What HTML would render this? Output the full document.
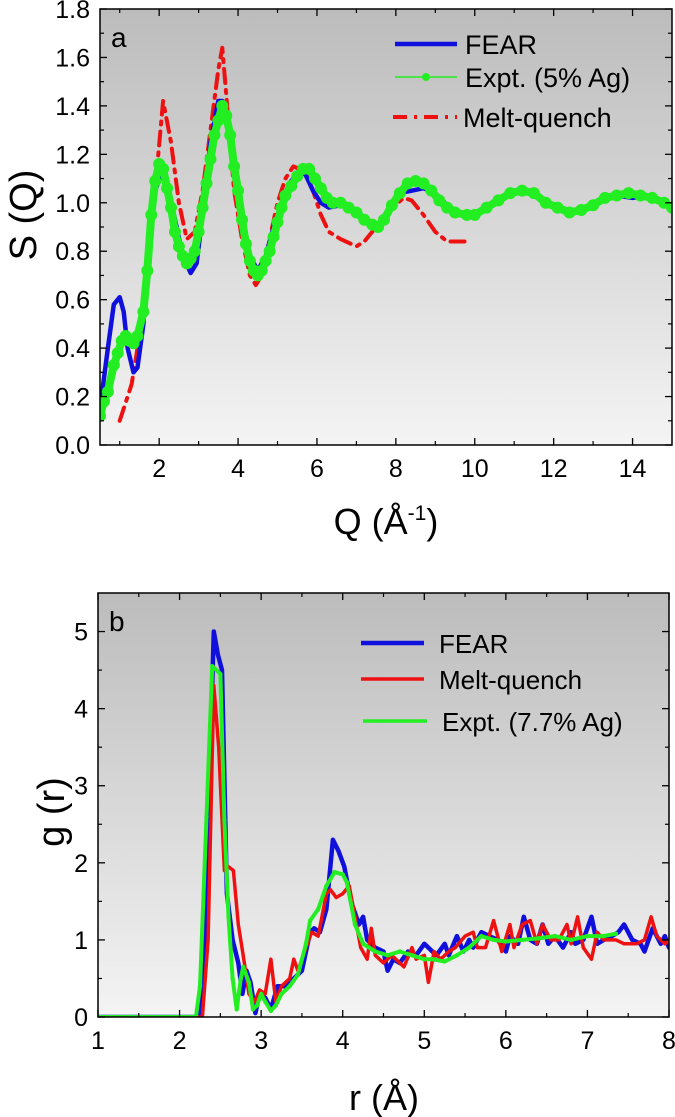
<!DOCTYPE html>
<html><head><meta charset="utf-8"><style>
html,body{margin:0;padding:0;background:#fff;}
svg{display:block;font-family:"Liberation Sans",Arial,sans-serif;}
</style></head><body>
<svg id="fig" width="675" height="1117" viewBox="0 0 675 1117">
<defs>
<linearGradient id="bg" x1="0" y1="0" x2="0" y2="1"><stop offset="0" stop-color="#bcbcbc"/><stop offset="1" stop-color="#f4f4f4"/></linearGradient>
</defs>
</svg>
<script>
// ---- Panel a data ----
const fearQ=[0.5,0.7,0.85,1.0,1.1,1.2,1.35,1.45,1.6,1.75,1.9,2.05,2.2,2.4,2.6,2.8,2.95,3.1,3.3,3.5,3.6,3.75,3.9,4.1,4.3,4.5,4.7,4.9,5.1,5.3,5.5,5.7,5.9,6.1,6.3,6.6,6.9,7.2,7.5,7.8,8.1,8.4,8.7,9.0,9.3,9.6,9.9,10.2,10.6,11.0,11.3,11.6,11.9,12.2,12.5,12.8,13.2,13.6,14.0,14.4,14.7,15.0];
const fearS=[0.15,0.4,0.58,0.61,0.55,0.4,0.3,0.32,0.5,0.85,1.05,1.12,1.08,0.93,0.78,0.71,0.75,0.95,1.25,1.42,1.42,1.32,1.15,0.95,0.78,0.72,0.78,0.9,1.0,1.08,1.12,1.12,1.05,1.0,0.98,0.99,0.97,0.94,0.9,0.97,1.04,1.05,1.06,1.04,0.99,0.96,0.95,0.97,1.02,1.04,1.05,1.02,0.99,0.98,0.96,0.98,1.01,1.03,1.02,1.03,1.01,0.98];
const exptQ=[0.5,0.6,0.7,0.85,0.95,1.05,1.15,1.25,1.35,1.45,1.6,1.7,1.8,1.9,2.0,2.1,2.2,2.3,2.4,2.5,2.6,2.7,2.8,2.9,3.0,3.1,3.2,3.3,3.4,3.5,3.6,3.7,3.8,3.9,4.0,4.1,4.2,4.3,4.4,4.5,4.6,4.7,4.8,4.9,5.0,5.1,5.2,5.35,5.5,5.65,5.8,5.95,6.1,6.25,6.4,6.6,6.8,7.0,7.2,7.4,7.55,7.7,7.9,8.1,8.3,8.5,8.7,8.9,9.1,9.3,9.5,9.8,10.0,10.3,10.6,10.9,11.2,11.5,11.8,12.1,12.4,12.7,13.0,13.3,13.6,13.9,14.2,14.5,14.8,15.0];
const exptS=[0.12,0.18,0.22,0.33,0.38,0.43,0.45,0.43,0.42,0.45,0.55,0.72,0.95,1.09,1.16,1.14,1.06,0.98,0.88,0.82,0.78,0.75,0.77,0.8,0.88,0.98,1.08,1.18,1.28,1.34,1.4,1.36,1.28,1.15,1.05,0.93,0.83,0.76,0.72,0.7,0.72,0.76,0.8,0.86,0.92,0.98,1.03,1.07,1.11,1.14,1.14,1.1,1.06,1.02,1.0,1.0,0.98,0.96,0.93,0.91,0.9,0.93,0.99,1.04,1.08,1.09,1.08,1.05,1.01,0.98,0.96,0.95,0.95,0.98,1.01,1.04,1.05,1.04,1.0,0.98,0.96,0.97,0.99,1.02,1.03,1.04,1.03,1.02,1.0,0.98];
const meltQ=[1.0,1.3,1.6,1.8,1.95,2.1,2.3,2.5,2.7,2.9,3.1,3.3,3.5,3.6,3.75,3.9,4.1,4.3,4.45,4.6,4.8,5.0,5.2,5.4,5.7,5.9,6.1,6.3,6.6,7.0,7.2,7.5,7.9,8.2,8.4,8.7,9.0,9.3,9.8];
const meltS=[0.1,0.25,0.55,0.85,1.15,1.42,1.25,1.0,0.85,0.88,1.05,1.3,1.55,1.64,1.35,1.05,0.85,0.7,0.66,0.7,0.85,1.0,1.1,1.15,1.13,1.05,0.95,0.88,0.85,0.82,0.84,0.9,0.98,1.02,1.01,0.95,0.88,0.84,0.84];
const aXTicks=[2,4,6,8,10,12,14];
const aYTicks=[0.0,0.2,0.4,0.6,0.8,1.0,1.2,1.4,1.6,1.8];
// ---- Panel b data ----
const fearR=[1.0,2.25,2.3,2.42,2.47,2.52,2.58,2.65,2.72,2.77,2.82,2.87,2.93,2.98,3.05,3.12,3.2,3.3,3.4,3.5,3.6,3.65,3.72,3.8,3.88,3.95,4.02,4.1,4.2,4.25,4.3,4.4,4.5,4.55,4.62,4.7,4.8,4.9,5.0,5.1,5.15,5.25,5.3,5.4,5.48,5.55,5.6,5.7,5.8,5.9,6.0,6.05,6.15,6.22,6.3,6.38,6.45,6.52,6.6,6.7,6.8,6.85,6.95,7.05,7.12,7.2,7.3,7.38,7.45,7.55,7.65,7.7,7.8,7.9,7.95,8.0];
const fearG=[0,0,0.8,5.0,4.7,4.5,1.6,1.0,0.7,0.3,0.6,0.45,0.05,0.3,0.25,0.1,0.4,0.4,0.5,0.6,1.1,1.15,1.1,1.4,2.3,2.15,1.95,1.5,1.2,1.3,1.0,0.9,0.85,0.6,0.75,0.7,0.85,0.8,0.95,0.85,0.8,0.95,0.8,1.05,0.85,1.0,0.9,1.1,1.05,1.0,0.85,1.05,0.95,1.3,1.0,0.95,1.2,0.95,1.05,0.9,1.1,0.95,1.0,1.3,0.95,1.0,1.05,1.1,1.2,1.0,0.95,0.85,1.15,0.95,1.05,0.9];
const meltR=[1.0,2.28,2.35,2.42,2.48,2.55,2.6,2.66,2.72,2.78,2.85,2.92,2.98,3.05,3.12,3.18,3.25,3.35,3.4,3.45,3.55,3.62,3.7,3.8,3.85,3.92,4.0,4.08,4.15,4.22,4.3,4.35,4.4,4.5,4.6,4.75,4.85,4.9,5.0,5.05,5.12,5.2,5.3,5.38,5.5,5.6,5.65,5.75,5.85,5.95,6.05,6.1,6.2,6.3,6.38,6.45,6.55,6.65,6.75,6.8,6.88,6.95,7.05,7.12,7.2,7.35,7.45,7.6,7.7,7.78,7.85,7.95,8.0];
const meltG=[0,0,1.0,4.3,3.5,1.9,1.95,1.9,1.2,0.8,0.3,0.2,0.35,0.3,0.75,0.2,0.4,0.5,0.75,0.6,0.9,1.1,1.05,1.6,1.65,1.55,1.6,1.7,1.3,0.9,0.75,1.15,0.8,0.7,0.8,0.65,0.9,0.75,0.8,0.45,0.85,0.75,0.85,0.9,1.05,1.1,0.9,0.9,1.25,0.85,1.2,0.9,1.2,1.25,0.95,1.2,1.0,1.0,1.2,0.95,1.3,0.9,0.75,1.1,1.0,1.0,0.95,0.95,1.0,1.3,1.05,0.95,1.0];
const exptR=[1.0,1.2,1.4,1.6,1.8,2.0,2.2,2.25,2.33,2.4,2.5,2.55,2.6,2.65,2.7,2.75,2.78,2.85,2.9,2.95,3.0,3.05,3.12,3.18,3.25,3.35,3.45,3.55,3.6,3.7,3.8,3.9,4.0,4.05,4.15,4.25,4.4,4.55,4.7,4.85,5.0,5.1,5.25,5.4,5.55,5.7,5.85,6.0,6.2,6.4,6.6,6.8,7.0,7.2,7.35];
const exptG=[0,0,0,0,0,0,0,0.4,2.6,4.55,4.45,2.55,1.3,0.5,0.1,0.5,0.65,0.45,0.1,0.15,0.3,0.2,0.08,0.15,0.3,0.4,0.55,0.95,1.25,1.4,1.7,1.88,1.85,1.75,1.2,0.95,0.85,0.8,0.85,0.8,0.75,0.75,0.72,0.8,0.9,1.05,1.0,0.98,1.0,1.02,1.05,1.0,1.05,1.05,1.08];
const bXTicks=[1,2,3,4,5,6,7,8];
const bYTicks=[0,1,2,3,4,5];

const NS='http://www.w3.org/2000/svg';
const svg=document.getElementById('fig');
function mk(tag,attrs,parent){const e=document.createElementNS(NS,tag);for(const k in attrs)e.setAttribute(k,attrs[k]);(parent||svg).appendChild(e);return e;}
function axis(x0,x1,px0,px1){return v=>px0+(v-x0)/(x1-x0)*(px1-px0);}

function panel(cfg){
  const g=mk('g',{});
  
  
  const X=axis(cfg.xmin,cfg.xmax,cfg.L,cfg.R), Y=axis(cfg.ymin,cfg.ymax,cfg.B,cfg.T);
  const bg=mk('rect',{x:cfg.L,y:cfg.T,width:cfg.R-cfg.L,height:cfg.B-cfg.T,fill:'url(#bg)'},g);
  
  
  const clip=mk('clipPath',{id:cfg.name+'-clip'},g);
  mk('rect',{x:cfg.L,y:cfg.T,width:cfg.R-cfg.L,height:cfg.B-cfg.T},clip);
  const data=mk('g',{'clip-path':'url(#'+cfg.name+'-clip)'},g);
  cfg.series.forEach(s=>{
    const pts=s.x.map((v,i)=>X(v).toFixed(1)+','+Y(s.y[i]).toFixed(1)).join(' ');
    const pl=mk('polyline',{points:pts,fill:'none',stroke:s.color,'stroke-width':s.w,'stroke-linejoin':'round','stroke-linecap':'round','stroke-dasharray':s.dash||'none'},data);
    
    
    if(s.marker){s.x.forEach((v,i)=>{const c=mk('circle',{cx:X(v),cy:Y(s.y[i]),r:s.marker,fill:s.color},data);
      
      });}
  });
  const fr=mk('rect',{x:cfg.L,y:cfg.T,width:cfg.R-cfg.L,height:cfg.B-cfg.T,fill:'none',stroke:'#000','stroke-width':1.5},g);
  
  
  cfg.xticks.forEach((t,i)=>{const x=X(t);
    mk('line',{x1:x,x2:x,y1:cfg.B,y2:cfg.B-7,stroke:'#000','stroke-width':1.3},g);
    mk('line',{x1:x,x2:x,y1:cfg.T,y2:cfg.T+7,stroke:'#000','stroke-width':1.3},g);
    const tx=mk('text',{x:x,y:cfg.B+32,'font-size':25,'text-anchor':'middle'},g);tx.textContent=t;
    
    
    const m=t+cfg.xstep/2; if(m<cfg.xmax){const xm=X(m);
      mk('line',{x1:xm,x2:xm,y1:cfg.B,y2:cfg.B-4,stroke:'#000','stroke-width':1.2},g);
      mk('line',{x1:xm,x2:xm,y1:cfg.T,y2:cfg.T+4,stroke:'#000','stroke-width':1.2},g);}
    if(i==0){const m0=t-cfg.xstep/2; if(m0>cfg.xmin){const xm=X(m0);mk('line',{x1:xm,x2:xm,y1:cfg.B,y2:cfg.B-4,stroke:'#000','stroke-width':1.2},g);mk('line',{x1:xm,x2:xm,y1:cfg.T,y2:cfg.T+4,stroke:'#000','stroke-width':1.2},g);}}
  });
  cfg.yticks.forEach(t=>{const y=Y(t);
    mk('line',{x1:cfg.L,x2:cfg.L+7,y1:y,y2:y,stroke:'#000','stroke-width':1.3},g);
    mk('line',{x1:cfg.R,x2:cfg.R-7,y1:y,y2:y,stroke:'#000','stroke-width':1.3},g);
    const ty=mk('text',{x:cfg.L-10,y:y+9,'font-size':25,'text-anchor':'end'},g);ty.textContent=cfg.yfmt(t);
    
    
    const m=t+cfg.ystep/2; if(m<cfg.ymax){const ym=Y(m);
      mk('line',{x1:cfg.L,x2:cfg.L+4,y1:ym,y2:ym,stroke:'#000','stroke-width':1.2},g);
      mk('line',{x1:cfg.R,x2:cfg.R-4,y1:ym,y2:ym,stroke:'#000','stroke-width':1.2},g);}
  });
  return {g,X,Y};
}

const pa=panel({name:'panel-a',L:100,R:672,T:9,B:445,xmin:0.5,xmax:15,ymin:0,ymax:1.8,xstep:2,ystep:0.2,xticks:aXTicks,yticks:aYTicks,yfmt:v=>v.toFixed(1),
  series:[
   {id:'melt-quench',x:meltQ,y:meltS,color:'#ee1111',w:4,dash:'14,7,3,7'},
   {id:'fear',x:fearQ,y:fearS,color:'#1010dd',w:4.5},
   {id:'expt-5-ag',x:exptQ,y:exptS,color:'#22ee22',w:8,marker:6}
  ]});
const pb=panel({name:'panel-b',L:98,R:669,T:593,B:1017,xmin:1,xmax:8,ymin:0,ymax:5.5,xstep:1,ystep:1,xticks:bXTicks,yticks:bYTicks,yfmt:v=>String(v),
  series:[
   {id:'fear',x:fearR,y:fearG,color:'#1010dd',w:4.5},
   {id:'melt-quench',x:meltR,y:meltG,color:'#ee1111',w:3.5},
   {id:'expt-7-7-ag',x:exptR,y:exptG,color:'#22ee22',w:4,marker:2.2}
  ]});

function txt(s,attrs,name){const t=mk('text',attrs);t.textContent=s;
  
  return t;}
function ln(attrs,name){const l=mk('line',attrs);
  
  return l;}
txt('a',{x:111,y:47,'font-size':28},'panel-a-label');
txt('b',{x:109,y:631,'font-size':28},'panel-b-label');
txt('S (Q)',{x:0,y:0,'font-size':38,'text-anchor':'middle',transform:'translate(36,215) rotate(-90)'},'y-axis-title-a');
txt('g (r)',{x:0,y:0,'font-size':38,'text-anchor':'middle',transform:'translate(64,812) rotate(-90)'},'y-axis-title-b');
const xa=mk('text',{x:386,y:534,'font-size':36,'text-anchor':'middle'});
xa.innerHTML='Q (Å<tspan dy="-14" font-size="21">-1</tspan><tspan dy="14">)</tspan>';


txt('r (Å)',{x:384,y:1110,'font-size':36,'text-anchor':'middle'},'x-axis-title-b');
ln({x1:395,x2:457,y1:44,y2:44,stroke:'#1010dd','stroke-width':4.5},'legend-a-fear-swatch');
txt('FEAR',{x:465,y:54,'font-size':27},'legend-a-fear');
ln({x1:395,x2:457,y1:77,y2:77,stroke:'#22ee22','stroke-width':1.5},'legend-a-expt-swatch');
mk('circle',{cx:426,cy:77,r:4,fill:'#22ee22'});
txt('Expt. (5% Ag)',{x:465,y:87,'font-size':27},'legend-a-expt');
ln({x1:393,x2:457,y1:117,y2:117,stroke:'#ee1111','stroke-width':4,'stroke-dasharray':'14,7,3,7'},'legend-a-melt-swatch');
txt('Melt-quench',{x:463,y:127,'font-size':27},'legend-a-melt');
ln({x1:361,x2:424,y1:643,y2:643,stroke:'#1010dd','stroke-width':4.5},'legend-b-fear-swatch');
txt('FEAR',{x:439,y:653,'font-size':26},'legend-b-fear');
ln({x1:361,x2:424,y1:679,y2:679,stroke:'#ee1111','stroke-width':3.5},'legend-b-melt-swatch');
txt('Melt-quench',{x:439,y:689,'font-size':26},'legend-b-melt');
ln({x1:363,x2:427,y1:721,y2:721,stroke:'#22ee22','stroke-width':3.5},'legend-b-expt-swatch');
txt('Expt. (7.7% Ag)',{x:442,y:731,'font-size':26},'legend-b-expt');
</script>
</body></html>
